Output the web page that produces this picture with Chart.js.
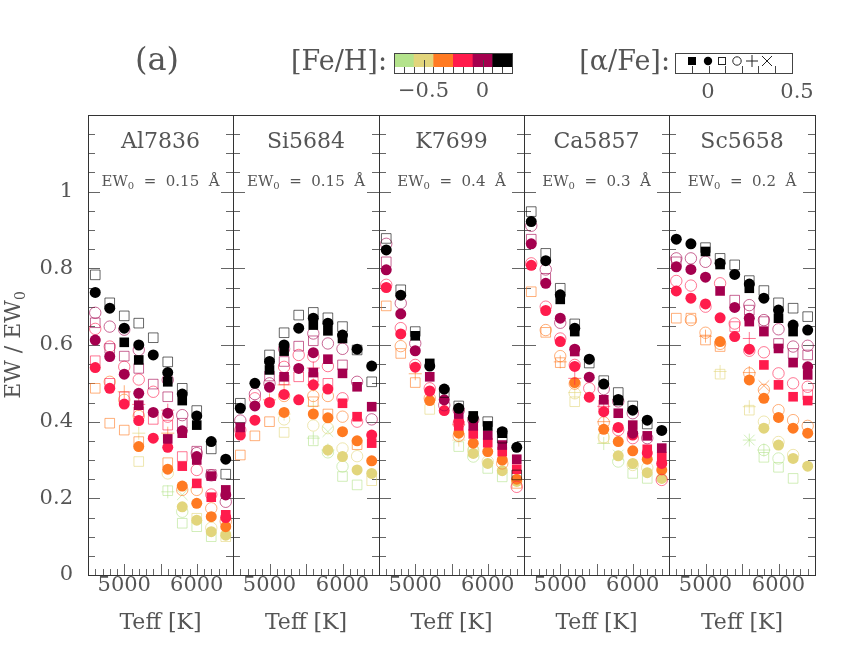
<!DOCTYPE html>
<html>
<head>
<meta charset="utf-8">
<script src="https://cdn.jsdelivr.net/npm/chart.js@4.4.0/dist/chart.umd.min.js"></script>
<style>
  html, body { margin: 0; padding: 0; background: #fff; }
  #wrap { position: relative; width: 867px; height: 648px; overflow: hidden; }
  #wrap canvas { position: absolute; }
</style>
</head>
<body>
<div id="wrap">
  <canvas id="head" width="867" height="110" style="left:0;top:0"></canvas>
</div>
<script>
// [Fe/H] bin index (named by colour): green, khaki, orange, red, magenta, black
const G = 0, Y = 1, O = 2, R = 3, M = 4, K = 5;
// [alpha/Fe] bin index: -0.1, 0, 0.1, 0.2, 0.3, 0.4
const FS = 0, FC = 1, OS = 2, OC = 3, PL = 4, X = 5;

const fehColors = ['#b4e38c', '#e2d57c', '#ff7a22', '#ff1c4c', '#a4004e', '#000000'];
const panelNames = ['Al7836', 'Si5684', 'K7699', 'Ca5857', 'Sc5658'];
const ew0Values = ['0.15', '0.15', '0.4', '0.3', '0.2'];
const teffTicks = [5000, 6000];
const ewTicks = [0, 0.2, 0.4, 0.6, 0.8, 1];

// rows: [Teff, [Fe/H] bin, [alpha/Fe] bin, EW/EW0]
const al7836 = [
  [4600,K,OS,.783],[4600,K,FC,.737],[4600,M,OC,.684],[4600,M,OS,.658],[4600,R,OC,.642],[4600,M,FC,.613],[4600,R,OS,.559],[4600,R,FC,.541],[4600,O,OS,.487],
  [4800,K,OS,.71],[4800,K,FC,.696],[4800,M,OC,.648],[4800,M,OS,.591],[4800,R,OC,.596],[4800,M,FC,.57],[4800,O,OC,.504],[4800,R,OS,.50],[4800,R,FC,.487],[4800,O,OS,.396],
  [5000,K,OS,.676],[5000,K,FC,.644],[5000,M,OC,.64],[5000,K,FS,.607],[5000,M,OS,.571],[5000,R,OC,.543],[5000,M,FC,.524],[5000,O,PL,.478],[5000,R,OS,.465],[5000,O,OC,.457],[5000,R,FC,.446],[5000,O,OS,.378],
  [5200,K,OS,.657],[5200,K,FC,.60],[5200,M,OC,.587],[5200,K,FS,.561],[5200,M,OS,.539],[5200,R,OC,.51],[5200,M,FC,.474],[5200,M,FS,.443],[5200,R,PL,.445],[5200,R,OS,.426],[5200,O,OC,.415],[5200,R,FC,.403],[5200,Y,PL,.37],[5200,O,OS,.348],[5200,O,FC,.335],[5200,Y,OS,.296],
  [5400,K,OS,.619],[5400,K,FC,.574],[5400,M,OS,.498],[5400,R,OC,.478],[5400,M,FC,.424],[5400,R,OS,.406],[5400,R,FC,.357],
  [5600,K,OS,.556],[5600,K,FC,.528],[5600,M,OC,.509],[5600,K,FS,.504],[5600,M,OS,.465],[5600,R,PL,.43],[5600,M,FC,.422],[5600,R,OC,.413],[5600,R,OS,.391],[5600,M,FS,.355],[5600,O,PL,.37],[5600,R,FC,.333],[5600,O,OS,.293],[5600,O,FC,.276],[5600,Y,OC,.265],[5600,G,PL,.217],[5600,G,OS,.22],
  [5800,K,OS,.487],[5800,K,FC,.472],[5800,K,FS,.455],[5800,M,OC,.417],[5800,M,OS,.396],[5800,M,FS,.37],[5800,M,FC,.376],[5800,R,OS,.309],[5800,R,FS,.284],[5800,O,OC,.222],[5800,O,FC,.232],[5800,G,X,.209],[5800,Y,FC,.178],[5800,G,OC,.165],[5800,G,OS,.135],
  [6000,K,OS,.429],[6000,K,FC,.415],[6000,K,FS,.391],[6000,M,OS,.323],[6000,M,OC,.318],[6000,M,FC,.309],[6000,M,FS,.30],[6000,R,OC,.274],[6000,R,FS,.239],[6000,O,OC,.222],[6000,O,FC,.187],[6000,Y,OS,.148],[6000,Y,FC,.143],[6000,G,OS,.126],
  [6200,K,FC,.348],[6200,K,OS,.329],[6200,M,OS,.262],[6200,M,OC,.26],[6200,M,FS,.258],[6200,R,OC,.21],[6200,R,FS,.203],[6200,O,OC,.174],[6200,O,FC,.152],[6200,Y,OC,.123],[6200,Y,FC,.113],[6200,G,OS,.10],
  [6400,K,FC,.302],[6400,K,OS,.263],[6400,M,FS,.222],[6400,M,FC,.209],[6400,M,OC,.191],[6400,R,FS,.157],[6400,R,FC,.15],[6400,O,OC,.14],[6400,O,FC,.126],[6400,Y,FC,.104],[6400,Y,OS,.10]
];

const si5684 = [
  [4600,K,OS,.448],[4600,K,FC,.435],[4600,M,OC,.403],[4600,M,FS,.385],[4600,R,OC,.378],[4600,R,FC,.365],[4600,O,OS,.313],
  [4800,K,FC,.50],[4800,M,OC,.472],[4800,R,OC,.461],[4800,M,FC,.441],[4800,R,FC,.404],[4800,O,OS,.363],
  [5000,K,OS,.574],[5000,K,FC,.557],[5000,K,FS,.535],[5000,M,OS,.519],[5000,M,OC,.50],[5000,M,FC,.49],[5000,O,PL,.457],[5000,R,FC,.45],[5000,O,OS,.40],
  [5200,K,OS,.632],[5200,K,FC,.60],[5200,M,OC,.59],[5200,K,FS,.584],[5200,M,OS,.557],[5200,R,OC,.543],[5200,M,FS,.517],[5200,R,OS,.509],[5200,O,PL,.496],[5200,R,FC,.471],[5200,O,OC,.467],[5200,O,FC,.424],[5200,Y,PL,.42],[5200,Y,OC,.406],[5200,Y,OS,.372],
  [5400,K,OS,.678],[5400,K,FC,.644],[5400,M,OS,.597],[5400,R,OC,.574],[5400,M,FC,.539],[5400,R,OS,.517],[5400,R,FC,.457],
  [5600,K,OS,.685],[5600,K,FC,.67],[5600,K,FS,.652],[5600,M,OC,.63],[5600,M,OS,.611],[5600,M,FC,.58],[5600,R,OC,.57],[5600,R,PL,.54],[5600,M,FS,.528],[5600,R,OS,.516],[5600,R,FC,.496],[5600,O,PL,.496],[5600,O,OC,.467],[5600,O,OS,.452],[5600,Y,PL,.441],[5600,O,FC,.42],[5600,Y,OC,.39],[5600,G,PL,.357],[5600,G,OS,.35],
  [5800,K,OS,.671],[5800,K,FC,.657],[5800,K,FS,.637],[5800,M,OC,.604],[5800,M,FS,.563],[5800,R,OC,.545],[5800,R,OS,.50],[5800,R,FC,.485],[5800,O,OC,.467],[5800,O,OS,.42],[5800,O,FC,.41],[5800,Y,OC,.383],[5800,G,X,.374],[5800,G,PL,.326],[5800,Y,FC,.326],[5800,G,OC,.32],
  [6000,K,OS,.648],[6000,K,FC,.626],[6000,K,FS,.617],[6000,M,OC,.59],[6000,M,OS,.548],[6000,M,FS,.526],[6000,R,OC,.461],[6000,R,FS,.448],[6000,O,OC,.413],[6000,O,FC,.374],[6000,Y,OC,.33],[6000,Y,FC,.309],[6000,G,OC,.283],[6000,G,OS,.257],
  [6200,K,FC,.589],[6200,K,OS,.587],[6200,M,OC,.504],[6200,M,FS,.491],[6200,R,FS,.413],[6200,R,OC,.40],[6200,O,FC,.35],[6200,O,OS,.34],[6200,Y,OC,.31],[6200,Y,FC,.274],[6200,G,OS,.235],
  [6400,K,FC,.545],[6400,K,OS,.504],[6400,M,FS,.439],[6400,M,OC,.406],[6400,R,FC,.365],[6400,R,FS,.344],[6400,O,FC,.298],[6400,Y,FC,.265],[6400,Y,OS,.246]
];

const k7699 = [
  [4600,K,OS,.878],[4600,M,OC,.864],[4600,K,FC,.848],[4600,M,OS,.817],[4600,M,FC,.796],[4600,R,OC,.757],[4600,R,FC,.75],[4600,O,OS,.702],
  [4800,K,OS,.744],[4800,K,FC,.73],[4800,M,OC,.709],[4800,M,FC,.681],[4800,R,OC,.644],[4800,R,FC,.629],[4800,O,OC,.597],[4800,O,OS,.578],
  [5000,K,OS,.635],[5000,K,FS,.624],[5000,M,OC,.604],[5000,M,FC,.585],[5000,R,OC,.548],[5000,R,FC,.542],[5000,O,PL,.525],[5000,O,OS,.502],
  [5200,K,FS,.552],[5200,K,FC,.545],[5200,M,FS,.517],[5200,R,OC,.487],[5200,R,FC,.48],[5200,O,OC,.461],[5200,O,FC,.455],[5200,Y,OS,.432],
  [5400,K,FC,.485],[5400,K,OS,.476],[5400,M,FC,.457],[5400,M,OC,.443],[5400,R,FC,.429],
  [5600,K,OS,.441],[5600,K,FC,.435],[5600,M,OC,.43],[5600,M,FS,.42],[5600,R,FC,.40],[5600,R,OC,.395],[5600,O,PL,.392],[5600,R,FS,.389],[5600,O,FC,.37],[5600,O,OC,.363],[5600,Y,PL,.352],[5600,G,OS,.335],
  [5800,K,FS,.415],[5800,K,FC,.41],[5800,M,OC,.405],[5800,M,FS,.389],[5800,R,FS,.368],[5800,O,FC,.344],[5800,Y,OC,.325],[5800,G,OS,.322],[5800,Y,FC,.317],[5800,G,OC,.309],
  [6000,K,OS,.40],[6000,K,FS,.389],[6000,M,FS,.365],[6000,R,FS,.345],[6000,O,FC,.322],[6000,Y,OC,.296],[6000,Y,FC,.291],[6000,G,OS,.278],
  [6200,K,FC,.374],[6200,K,FS,.37],[6200,K,OS,.357],[6200,M,FS,.339],[6200,R,FS,.322],[6200,O,FC,.30],[6200,O,OC,.291],[6200,Y,FC,.272],[6200,G,OS,.256],
  [6400,K,FC,.333],[6400,M,FS,.302],[6400,R,FS,.276],[6400,K,OS,.261],[6400,O,FC,.25],[6400,Y,FC,.244],[6400,O,OS,.239],[6400,R,OC,.23]
];

const ca5857 = [
  [4600,K,OS,.948],[4600,K,FC,.922],[4600,M,OC,.911],[4600,M,OS,.876],[4600,M,FC,.864],[4600,R,OC,.813],[4600,R,FC,.808],[4600,O,OS,.739],
  [4800,K,OS,.839],[4800,K,FC,.82],[4800,M,OC,.797],[4800,M,OS,.774],[4800,M,FC,.761],[4800,R,OC,.70],[4800,R,FC,.69],[4800,O,OC,.639],[4800,O,OS,.633],
  [5000,K,OS,.748],[5000,K,FC,.731],[5000,K,FS,.719],[5000,M,FC,.67],[5000,M,OC,.658],[5000,R,OC,.617],[5000,R,FC,.609],[5000,O,OC,.571],[5000,O,PL,.556],[5000,O,OS,.554],
  [5200,K,OS,.655],[5200,K,FC,.644],[5200,K,FS,.635],[5200,M,FC,.589],[5200,M,FS,.583],[5200,R,OC,.548],[5200,R,FC,.544],[5200,R,PL,.513],[5200,O,FC,.502],[5200,O,OC,.499],[5200,Y,PL,.476],[5200,Y,OC,.474],[5200,Y,OS,.452],
  [5400,K,FC,.563],[5400,K,OS,.553],[5400,M,FC,.516],[5400,R,OC,.487],[5400,R,FC,.464],
  [5600,K,OS,.507],[5600,K,FC,.498],[5600,M,OC,.485],[5600,M,FS,.457],[5600,R,OS,.444],[5600,R,PL,.44],[5600,R,FC,.426],[5600,O,PL,.40],[5600,O,OC,.398],[5600,O,FC,.38],[5600,Y,OC,.359],[5600,Y,OS,.357],[5600,G,PL,.343],
  [5800,K,OS,.476],[5800,K,FC,.458],[5800,K,FS,.455],[5800,M,OC,.453],[5800,M,FS,.422],[5800,R,FC,.385],[5800,R,OC,.378],[5800,O,FC,.348],[5800,G,X,.313],[5800,Y,FC,.311],[5800,G,OC,.296],
  [6000,K,OS,.441],[6000,K,FC,.43],[6000,M,OC,.422],[6000,M,FS,.391],[6000,M,FC,.37],[6000,R,FC,.365],[6000,R,OC,.357],[6000,O,FC,.324],[6000,Y,FC,.291],[6000,Y,OC,.287],[6000,G,OS,.265],
  [6200,K,FC,.404],[6200,K,OS,.394],[6200,M,FS,.363],[6200,M,OC,.357],[6200,R,FS,.328],[6200,R,FC,.318],[6200,O,FC,.302],[6200,Y,OC,.28],[6200,Y,FC,.267],[6200,G,OS,.252],
  [6400,K,FC,.377],[6400,M,FS,.331],[6400,R,FS,.309],[6400,R,FC,.291],[6400,O,FC,.274],[6400,Y,FC,.252],[6400,R,OC,.248]
];

const sc5658 = [
  [4600,K,FC,.876],[4600,M,OC,.826],[4600,M,OS,.817],[4600,M,FC,.804],[4600,R,OC,.767],[4600,R,FC,.741],[4600,O,OS,.67],
  [4800,K,FC,.864],[4800,M,OC,.826],[4800,M,FC,.797],[4800,R,OC,.755],[4800,R,FC,.722],[4800,O,OC,.665],[4800,O,OS,.67],
  [5000,K,OS,.854],[5000,K,FS,.844],[5000,M,OC,.817],[5000,M,FC,.777],[5000,R,FC,.707],[5000,R,OC,.70],[5000,O,OC,.632],[5000,O,PL,.623],[5000,O,OS,.613],
  [5200,K,OS,.826],[5200,K,FC,.813],[5200,K,FS,.81],[5200,R,OC,.761],[5200,M,FS,.741],[5200,R,FC,.671],[5200,O,FC,.609],[5200,O,OC,.603],[5200,O,OS,.596],[5200,Y,PL,.531],[5200,Y,OS,.524],
  [5400,K,OS,.809],[5400,K,FC,.784],[5400,M,OS,.717],[5400,M,FC,.698],[5400,R,OC,.656],[5400,R,OS,.648],[5400,R,FC,.622],
  [5600,K,OS,.768],[5600,K,FC,.759],[5600,K,FS,.748],[5600,M,OC,.704],[5600,M,OS,.691],[5600,M,FC,.67],[5600,M,FS,.661],[5600,R,PL,.617],[5600,R,FC,.589],[5600,R,OC,.585],[5600,O,OC,.526],[5600,O,PL,.528],[5600,O,FC,.509],[5600,Y,PL,.439],[5600,Y,OS,.43],[5600,G,PL,.352],[5600,G,X,.352],
  [5800,K,OS,.742],[5800,K,FC,.722],[5800,M,OC,.665],[5800,M,OS,.661],[5800,M,FS,.635],[5800,R,OC,.581],[5800,R,FS,.548],[5800,O,X,.494],[5800,O,OC,.483],[5800,O,FC,.461],[5800,Y,OC,.40],[5800,Y,FC,.383],[5800,G,OC,.326],[5800,G,PL,.326],[5800,G,OS,.307],
  [6000,K,OS,.71],[6000,K,FC,.691],[6000,K,FS,.67],[6000,M,OC,.641],[6000,M,OS,.604],[6000,M,FS,.591],[6000,R,OC,.526],[6000,R,FS,.496],[6000,O,OC,.43],[6000,O,FC,.411],[6000,Y,OC,.347],[6000,Y,FC,.339],[6000,G,OC,.304],[6000,G,OS,.281],
  [6200,K,OS,.696],[6200,K,FC,.652],[6200,K,FS,.635],[6200,M,OC,.596],[6200,M,OS,.578],[6200,M,FS,.554],[6200,R,OC,.50],[6200,R,FS,.465],[6200,O,OC,.404],[6200,O,FC,.383],[6200,Y,OC,.313],[6200,Y,FC,.304],[6200,G,OS,.252],
  [6400,K,OS,.674],[6400,K,FC,.639],[6400,M,OC,.598],[6400,M,OS,.574],[6400,M,FC,.543],[6400,M,FS,.522],[6400,R,OC,.491],[6400,R,OS,.47],[6400,R,FS,.455],[6400,O,OC,.389],[6400,O,FC,.37],[6400,Y,FC,.284]
];

const panels = [al7836, si5684, k7699, ca5857, sc5658];

// ---- layout / style ----
const edges = [88, 233, 379, 524, 669, 815];
const PLOT_TOP = 115, PLOT_H = 460, AXIS_H = 73, YAXIS_W = 88;
const TEXT = '#555';
const FONT = '"DejaVu Serif", serif';

const markerStyle = [
  { pointStyle: 'rect', radius: 6.8, filled: true },
  { pointStyle: 'circle', radius: 5.5, filled: true },
  { pointStyle: 'rect', radius: 6.8, filled: false },
  { pointStyle: 'circle', radius: 5.7, filled: false },
  { pointStyle: 'cross', radius: 6.5, filled: false },
  { pointStyle: 'crossRot', radius: 7.5, filled: false }
];

function rgba(hex, a) {
  const n = parseInt(hex.slice(1), 16);
  return 'rgba(' + (n >> 16) + ',' + ((n >> 8) & 255) + ',' + (n & 255) + ',' + a + ')';
}

function buildDatasets(rows) {
  const out = [];
  for (let f = 0; f < 6; f++) {
    for (let a = 0; a < 6; a++) {
      const pts = rows.filter(r => r[1] === f && r[2] === a).map(r => ({ x: r[0], y: r[3] }));
      if (!pts.length) continue;
      const m = markerStyle[a], col = fehColors[f];
      out.push({
        data: pts,
        pointStyle: m.pointStyle,
        pointRadius: m.radius,
        backgroundColor: m.filled ? col : 'rgba(0,0,0,0)',
        borderColor: m.filled ? col : rgba(col, 0.6),
        borderWidth: m.filled ? 0 : 1,
        order: (5 - f) * 10 + (m.filled ? 0 : 5)
      });
    }
  }
  return out;
}

// frame, inward ticks and panel labels
const panelDeco = {
  id: 'panelDeco',
  beforeDatasetsDraw(chart, args, opts) {
    const ctx = chart.ctx, a = chart.chartArea;
    const xs = chart.scales.x, ys = chart.scales.y;
    ctx.save();
    ctx.strokeStyle = '#666';
    ctx.lineWidth = 1;
    ctx.beginPath();
    for (let t = 4600; t < 6500; t += 100) {
      const px = Math.round(xs.getPixelForValue(t)) + 0.5;
      const len = t % 500 === 0 ? 11 : 6;
      ctx.moveTo(px, a.bottom);
      ctx.lineTo(px, a.bottom - len);
    }
    for (let k = 1; k < 24; k++) {
      const py = Math.round(ys.getPixelForValue(k * 0.05)) + 0.5;
      const len = k % 4 === 0 ? 12 : 7;
      ctx.moveTo(a.left, py); ctx.lineTo(a.left + len, py);
      ctx.moveTo(a.right, py); ctx.lineTo(a.right - len, py);
    }
    ctx.stroke();

    // panel name and EW0
    const cx = (a.left + a.right) / 2;
    ctx.fillStyle = TEXT;
    ctx.textBaseline = 'middle';
    ctx.textAlign = 'center';
    ctx.font = '22px ' + FONT;
    ctx.fillText(panelNames[opts.index], cx, a.top + 27);

    ctx.textBaseline = 'alphabetic';
    ctx.textAlign = 'left';
    const big = '15px ' + FONT, small = '10px ' + FONT;
    const p1 = 'EW', p2 = '0', p3 = '  =  ' + ew0Values[opts.index] + '  Å';
    ctx.font = big; const w1 = ctx.measureText(p1).width, w3 = ctx.measureText(p3).width;
    ctx.font = small; const w2 = ctx.measureText(p2).width;
    const x0 = cx - (w1 + w2 + w3) / 2;
    const base = a.top + 71;
    ctx.font = big; ctx.fillText(p1, x0, base);
    ctx.font = small; ctx.fillText(p2, x0 + w1, base + 3);
    ctx.font = big; ctx.fillText(p3, x0 + w1 + w2, base);

    if (opts.index === 0) {
      ctx.save();
      ctx.translate(20, (a.top + a.bottom) / 2);
      ctx.rotate(-Math.PI / 2);
      const t1 = 'EW / EW', t2 = '0';
      ctx.font = '22px ' + FONT; const m1 = ctx.measureText(t1).width;
      ctx.font = '14px ' + FONT; const m2 = ctx.measureText(t2).width;
      const sx = -(m1 + m2) / 2;
      ctx.font = '22px ' + FONT; ctx.fillText(t1, sx, 0);
      ctx.font = '14px ' + FONT; ctx.fillText(t2, sx + m1, 5);
      ctx.restore();
    }
    ctx.restore();
  },
  afterDatasetsDraw(chart) {
    const ctx = chart.ctx, a = chart.chartArea;
    ctx.save();
    ctx.strokeStyle = '#333';
    ctx.lineWidth = 1;
    ctx.strokeRect(a.left + 0.5, a.top + 0.5, a.right - a.left, a.bottom - a.top);
    ctx.restore();
  }
};

const wrap = document.getElementById('wrap');
panels.forEach((rows, i) => {
  const left = i === 0 ? 0 : edges[i];
  const cv = document.createElement('canvas');
  cv.width = edges[i + 1] - left + 1;
  cv.height = PLOT_H + AXIS_H;
  cv.style.left = left + 'px';
  cv.style.top = PLOT_TOP + 'px';
  wrap.appendChild(cv);

  new Chart(cv, {
    type: 'scatter',
    data: { datasets: buildDatasets(rows) },
    options: {
      responsive: false,
      animation: false,
      devicePixelRatio: 1,
      events: [],
      layout: { autoPadding: false, padding: { left: 0, right: 1, top: 0, bottom: 0 } },
      plugins: {
        legend: { display: false },
        tooltip: { enabled: false },
        panelDeco: { index: i }
      },
      scales: {
        x: {
          type: 'linear', min: 4500, max: 6500,
          afterBuildTicks: s => { s.ticks = teffTicks.map(v => ({ value: v })); },
          afterFit: s => { s.height = AXIS_H; s.paddingLeft = 0; s.paddingRight = 0; },
          grid: { display: false, drawTicks: false },
          border: { display: false },
          ticks: {
            padding: 0, color: TEXT, maxRotation: 0, autoSkip: false,
            font: { family: FONT, size: 21, lineHeight: 1 },
            callback: v => String(v)
          },
          title: {
            display: true, text: 'Teff [K]', color: TEXT,
            font: { family: FONT, size: 22 },
            padding: { top: 0, bottom: 12 }
          }
        },
        y: {
          type: 'linear', min: 0, max: 1.2,
          display: i === 0,
          afterBuildTicks: s => { s.ticks = ewTicks.map(v => ({ value: v })); },
          afterFit: s => { s.width = i === 0 ? YAXIS_W : 0; s.paddingTop = 0; s.paddingBottom = 0; },
          grid: { display: false, drawTicks: false },
          border: { display: false },
          ticks: {
            padding: 15, color: TEXT,
            font: { family: FONT, size: 21 },
            callback: v => String(v)
          }
        }
      }
    },
    plugins: [panelDeco]
  });
});

// header: panel tag, [Fe/H] colour bar and [alpha/Fe] symbol key
(function drawHeader() {
  const g = document.getElementById('head').getContext('2d');
  g.fillStyle = TEXT;
  g.textBaseline = 'middle';
  g.textAlign = 'center';
  g.font = '32px ' + FONT;
  g.fillText('(a)', 157, 62);

  g.font = '27px ' + FONT;
  g.textAlign = 'right';
  g.fillText('[Fe/H]:', 387, 63);
  g.fillText('[α/Fe]:', 670, 63);

  // colour bar
  const bx = 394, bw = 118, by = 53, bh = 20, ch = 14;
  fehColors.forEach((c, k) => {
    g.fillStyle = c;
    g.fillRect(bx + k * bw / 6, by, bw / 6 + 0.5, ch);
  });
  g.strokeStyle = '#444';
  g.lineWidth = 1;
  g.strokeRect(bx + 0.5, by + 0.5, bw, bh);
  g.beginPath();
  for (let k = 1; k < 12; k++) {
    const px = Math.round(bx + k * bw / 12) + 0.5;
    const len = (k === 3 || k === 9) ? 13 : 6;
    g.moveTo(px, by + bh); g.lineTo(px, by + bh - len);
  }
  g.stroke();
  g.fillStyle = TEXT;
  g.textAlign = 'center';
  g.font = '21px ' + FONT;
  g.fillText('−0.5', bx + 3 * bw / 12, 92);
  g.fillText('0', bx + 9 * bw / 12, 92);

  // symbol key
  const kx = 675, kw = 117;
  g.strokeRect(kx + 0.5, by + 0.5, kw, bh);
  g.beginPath();
  for (let k = 0; k < 6; k++) {
    const px = Math.round(692 + k * 16.6) + 0.5;
    g.moveTo(px, by + bh); g.lineTo(px, by + bh - 7);
  }
  g.stroke();
  const my = 61, xs = [692, 708, 722, 737, 752, 767];
  g.fillStyle = '#000';
  g.strokeStyle = '#222';
  g.fillRect(xs[0] - 4, my - 4, 8, 8);
  g.beginPath(); g.arc(xs[1], my, 4.2, 0, Math.PI * 2); g.fill();
  g.strokeRect(xs[2] - 3.5, my - 3.5, 7, 7);
  g.beginPath(); g.arc(xs[3], my, 4.2, 0, Math.PI * 2); g.stroke();
  g.beginPath();
  g.moveTo(xs[4] - 6, my); g.lineTo(xs[4] + 6, my);
  g.moveTo(xs[4], my - 6); g.lineTo(xs[4], my + 6);
  g.moveTo(xs[5] - 5, my - 5); g.lineTo(xs[5] + 5, my + 5);
  g.moveTo(xs[5] - 5, my + 5); g.lineTo(xs[5] + 5, my - 5);
  g.stroke();
  g.fillStyle = TEXT;
  g.fillText('0', 708, 93);
  g.fillText('0.5', 797, 93);
})();
</script>
</body>
</html>
